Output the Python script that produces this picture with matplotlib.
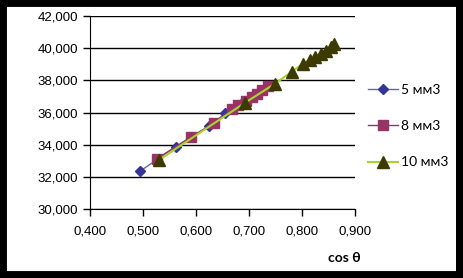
import matplotlib.pyplot as plt
from matplotlib.patches import Rectangle
from matplotlib.ticker import FuncFormatter, MultipleLocator

# 5 mm3
cos5 = [0.495, 0.562, 0.625, 0.655, 0.690]
val5 = [32.37, 33.86, 35.15, 35.95, 36.75]
# 8 mm3
cos8 = [0.526, 0.590, 0.634, 0.668, 0.680, 0.695, 0.705, 0.715, 0.725, 0.735]
val8 = [33.12, 34.48, 35.35, 36.20, 36.45, 36.70, 36.95, 37.15, 37.40, 37.65]
# 10 mm3
cos10 = [0.530, 0.692, 0.749, 0.781, 0.802, 0.815, 0.825, 0.835, 0.845, 0.855, 0.860]
val10 = [33.05, 36.60, 37.80, 38.55, 39.05, 39.30, 39.45, 39.65, 39.85, 40.10, 40.25]

labels = ['5 мм3', '8 мм3', '10 мм3']

fig = plt.figure(figsize=(4.63, 2.78), dpi=100)
ax = fig.add_axes([0.194, 0.248, 0.573, 0.694])

ax.plot(cos5, val5, color='#6666b0', lw=1, marker='D', ms=5,
        mfc='#333399', mec='#333399', label=labels[0], zorder=3)
ax.plot(cos8, val8, color='#993366', lw=1, marker='s', ms=7,
        mfc='#993366', mec='#993366', label=labels[1], zorder=4)
ax.plot(cos10, val10, color='#a8d42a', lw=1.5, marker='^', ms=8,
        mfc='#3c3a00', mec='#3c3a00', label=labels[2], zorder=5)

ax.set_xlim(0.4, 0.9)
ax.set_ylim(30, 42)
ax.xaxis.set_major_locator(MultipleLocator(0.1))
ax.yaxis.set_major_locator(MultipleLocator(2))
fmt = FuncFormatter(lambda v, p: f'{v:.3f}'.replace('.', ','))
ax.xaxis.set_major_formatter(fmt)
ax.yaxis.set_major_formatter(fmt)
ax.grid(axis='y', color='black', lw=1)
ax.set_axisbelow(True)
for s in ['top', 'right']:
    ax.spines[s].set_visible(False)
ax.tick_params(direction='out', length=5, width=1, labelsize=9.5,
               colors='black', labelfontfamily='Liberation Sans')
ax.tick_params(axis='x', pad=7)

ax.set_xlabel('cos θ', fontsize=10, fontweight='bold', family='Lato')
ax.xaxis.set_label_coords(0.96, -0.22)

leg = ax.legend(loc='center left', bbox_to_anchor=(1.0, 0.43), frameon=False,
                prop={'family': 'Lato', 'size': 10}, labelspacing=1.75,
                handlelength=2.2, handletextpad=0.2)

# black frame around the picture
fig.patches.append(Rectangle((0, 0), 1, 1, transform=fig.transFigure,
                             fill=False, ec='black', lw=10, zorder=10))
fig.patches.append(Rectangle((0.985, 0), 0.015, 1, transform=fig.transFigure,
                             fc='black', ec='none', zorder=10))
fig.patches.append(Rectangle((0, 0), 1, 0.022, transform=fig.transFigure,
                             fc='black', ec='none', zorder=10))

fig.savefig('out.png', dpi=100)
